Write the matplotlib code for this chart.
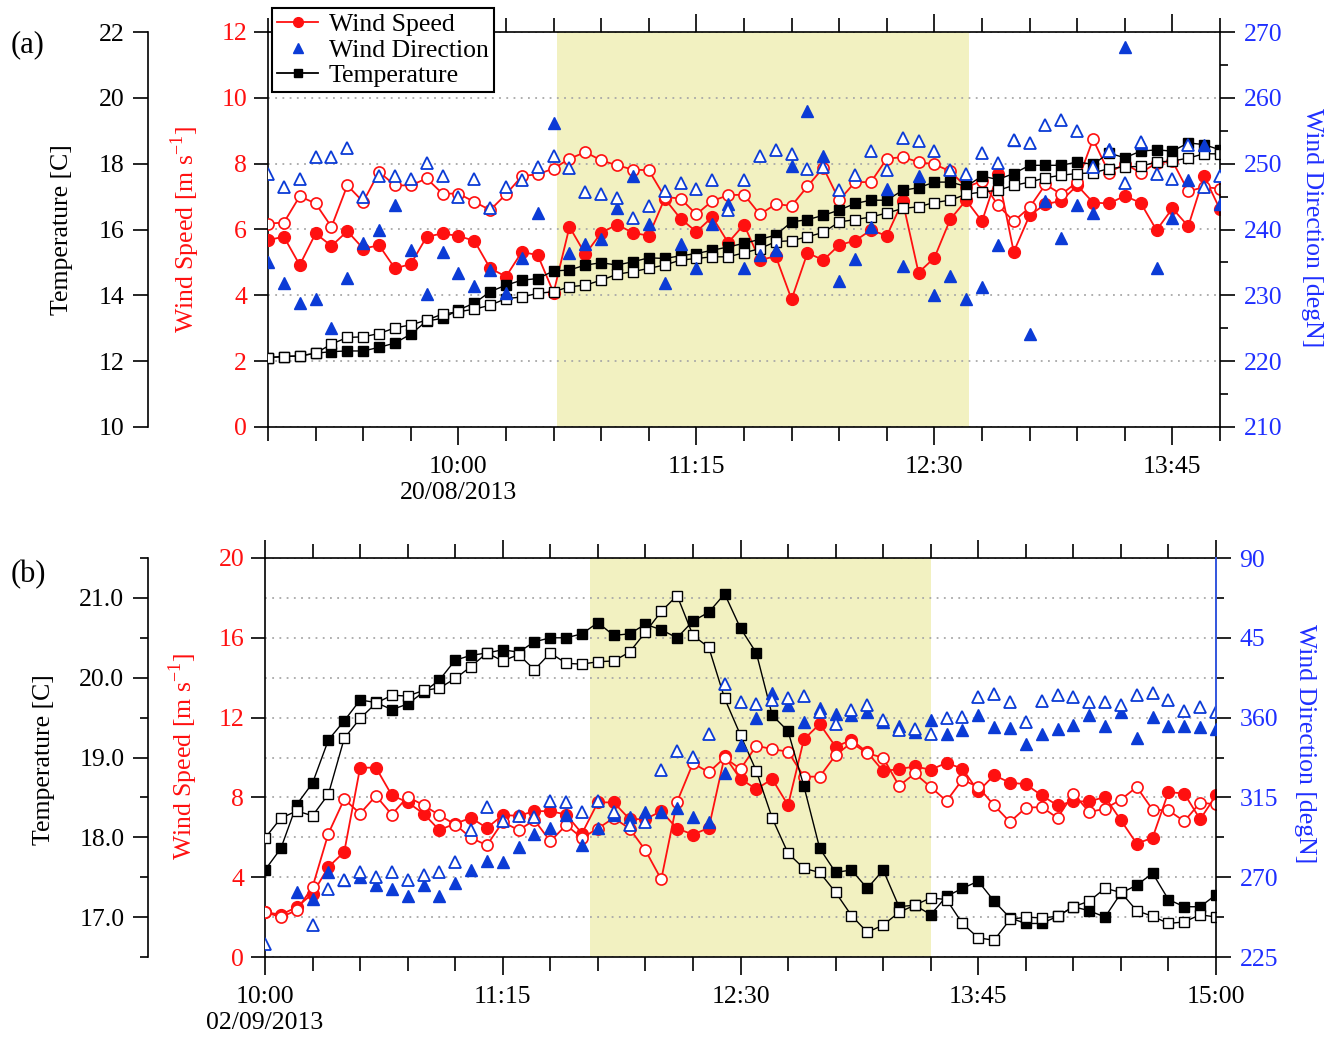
import numpy as np
import matplotlib
matplotlib.use("Agg")
import matplotlib.pyplot as plt
import matplotlib.transforms as mtransforms
from matplotlib.lines import Line2D
from matplotlib.ticker import MultipleLocator, FuncFormatter

plt.rcParams["font.family"] = "serif"
plt.rcParams["font.serif"] = ["Liberation Serif", "DejaVu Serif"]
plt.rcParams["mathtext.fontset"] = "custom"
plt.rcParams["mathtext.rm"] = "Liberation Serif"

# ---- panel (a): 20/08/2013, 09:00-14:00, 5 min steps ----
t_a = np.arange(540, 841, 5)  # minutes after midnight
a_ws1 = [5.68, 5.78, 4.92, 5.88, 5.5, 5.95, 5.42, 5.52, 4.82, 4.95, 5.78, 5.88, 5.8, 5.66, 4.82, 4.57, 5.32, 5.22, 4.08, 6.08, 5.25,
         5.9, 6.15, 5.9, 5.81, 6.94, 6.33, 5.93, 6.38, 5.6, 6.15, 5.07, 5.19, 3.88, 5.29, 5.07, 5.53, 5.66, 5.98, 5.81, 6.86,
         4.69, 5.14, 6.31, 6.89, 6.25, 7.7, 5.32, 6.43, 6.77, 6.87, 7.34, 6.82, 6.79, 7.02, 6.81, 5.98, 6.64, 6.1, 7.62, 6.61]
a_ws2 = [6.18, 6.21, 7.01, 6.79, 6.08, 7.34, 6.84, 7.75, 7.34, 7.34, 7.55, 7.09, 7.09, 6.84, 6.59, 7.07, 7.62, 7.68, 7.85, 8.15, 8.35,
         8.1, 7.95, 7.82, 7.8, 6.99, 6.94, 6.46, 6.87, 7.04, 7.06, 6.46, 6.77, 6.72, 7.31, 7.88, 6.89, 7.44, 7.44, 8.15, 8.2,
         8.05, 7.98, 7.77, 7.29, 7.47, 6.74, 6.25, 6.67, 7.37, 7.07, 7.44, 8.74, 7.72, 8.0, 7.72, 8.02, 8.08, 7.16, 7.29, 7.24]
a_t1 = [12.11, 12.14, 12.16, 12.24, 12.29, 12.31, 12.31, 12.42, 12.55, 12.82, 13.22, 13.3, 13.56, 13.76, 14.11, 14.31, 14.46, 14.51, 14.74, 14.77, 14.92,
        14.99, 14.92, 15.02, 15.14, 15.12, 15.2, 15.27, 15.37, 15.47, 15.58, 15.7, 15.83, 16.23, 16.3, 16.43, 16.59, 16.79, 16.89, 16.89, 17.19,
        17.27, 17.44, 17.44, 17.31, 17.62, 17.52, 17.7, 17.95, 17.95, 17.95, 18.05, 17.98, 18.32, 18.18, 18.38, 18.42, 18.38, 18.63, 18.58, 18.42]
a_t2 = [12.11, 12.14, 12.16, 12.24, 12.52, 12.72, 12.74, 12.84, 13.01, 13.1, 13.25, 13.43, 13.5, 13.58, 13.7, 13.9, 13.95, 14.06, 14.11, 14.26, 14.31,
        14.46, 14.64, 14.72, 14.82, 14.92, 15.07, 15.12, 15.17, 15.17, 15.29, 15.42, 15.63, 15.66, 15.78, 15.91, 16.23, 16.3, 16.38, 16.5, 16.64,
        16.69, 16.82, 16.89, 17.07, 17.14, 17.19, 17.34, 17.44, 17.57, 17.65, 17.7, 17.72, 17.85, 17.9, 17.92, 18.05, 18.08, 18.17, 18.3, 18.3]
a_wd1 = [235.1, 231.9, 228.9, 229.4, 225.1, 232.7, 238, 240, 243.7, 236.9, 230.2, 236.6, 233.4, 231.4, 233.9, 230.4, 235.7, 242.5, 256.2, 236.5, 237.8,
         238.5, 243.3, 248.2, 240.8, 231.8, 237.8, 234.2, 240.8, 243.8, 234.2, 236.1, 236.9, 249.6, 258, 251.1, 232.2, 235.5, 240.4, 246.2, 234.5,
         248.2, 230, 233, 229.5, 231.2, 237.6, 253.6, 224.2, 244.3, 238.7, 243.7, 242.5, 252.3, 267.7, 253.2, 234.1, 241.7, 247.5, 252.8, 243.9]
a_wd2 = [248.5, 246.5, 247.7, 251, 251, 252.4, 245, 248.1, 248.1, 247.7, 250.1, 248.2, 244.9, 247.7, 243.2, 246.4, 247.5, 249.5, 251.1, 249.4, 245.7,
         245.4, 244.8, 241.8, 243.6, 245.9, 247.1, 246.1, 247.5, 243, 247.5, 251.1, 252.1, 251.4, 249.2, 249.5, 246, 248.3, 251.9, 249.1, 253.9,
         253.5, 251.9, 249, 248.5, 251.6, 250.1, 253.6, 253.1, 255.9, 256.7, 254.9, 249.5, 252, 247, 253.3, 248.5, 247.6, 252.8, 246.5, 248.2]
a_shade = (631, 761)

# ---- panel (b): 02/09/2013, 10:00-15:00, 5 min steps ----
t_b = np.arange(600, 901, 5)
b_ws1 = [2.25, 2.12, 2.5, 3.17, 4.51, 5.27, 9.49, 9.49, 8.11, 7.75, 7.19, 6.36, 6.69, 6.97, 6.47, 7.11, 7.08, 7.31, 7.31, 7.14, 6.19,
         7.75, 7.75, 6.91, 6.91, 7.31, 6.44, 6.14, 6.47, 10.07, 8.92, 8.42, 8.92, 7.61, 10.91, 11.68, 10.54, 10.88, 10.26, 9.32, 9.42, 9.55,
         9.39, 9.73, 9.44, 8.3, 9.11, 8.74, 8.66, 8.1, 7.6, 7.8, 7.8, 8.02, 6.85, 5.68, 5.98, 8.27, 8.19, 6.9, 8.1]
b_ws2 = [2.25, 2.0, 2.34, 3.51, 6.19, 7.91, 7.19, 8.08, 7.14, 8.03, 7.61, 7.11, 6.64, 5.97, 5.6, 6.77, 6.36, 6.86, 5.8, 6.61, 5.97,
         6.44, 6.97, 6.44, 5.35, 3.89, 7.78, 9.71, 9.26, 9.99, 9.42, 10.59, 10.42, 10.29, 9.04, 9.04, 10.12, 10.74, 10.21, 9.99, 8.58, 9.2,
         8.52, 7.82, 8.89, 8.52, 7.6, 6.77, 7.48, 7.52, 6.97, 8.19, 7.27, 7.43, 7.89, 8.52, 7.38, 7.35, 6.8, 7.74, 7.65]
b_t1 = [17.59, 17.86, 18.41, 18.68, 19.22, 19.46, 19.72, 19.69, 19.6, 19.67, 19.82, 19.97, 20.22, 20.28, 20.31, 20.35, 20.32, 20.45, 20.5, 20.5, 20.55,
        20.69, 20.53, 20.55, 20.67, 20.6, 20.5, 20.71, 20.82, 21.05, 20.62, 20.31, 19.53, 19.33, 18.64, 17.86, 17.56, 17.59, 17.36, 17.59, 17.13, 17.15,
        17.03, 17.26, 17.36, 17.45, 17.2, 16.99, 16.92, 16.92, 17.01, 17.13, 17.08, 17.0, 17.3, 17.4, 17.55, 17.22, 17.13, 17.13, 17.28]
b_t2 = [17.99, 18.24, 18.33, 18.27, 18.54, 19.24, 19.49, 19.68, 19.78, 19.77, 19.84, 19.87, 19.99, 20.14, 20.31, 20.21, 20.29, 20.1, 20.31, 20.18, 20.17,
        20.2, 20.21, 20.32, 20.57, 20.83, 21.03, 20.53, 20.38, 19.74, 19.28, 18.83, 18.24, 17.8, 17.61, 17.56, 17.31, 17.02, 16.81, 16.9, 17.06, 17.15,
        17.24, 17.22, 16.92, 16.74, 16.71, 16.97, 17.0, 16.99, 17.01, 17.13, 17.2, 17.36, 17.31, 17.08, 17.01, 16.92, 16.94, 17.03, 17.0]
# wind direction in panel (b) is unwrapped past 360 (axis runs 225 -> 450)
b_wd1 = [np.nan, np.nan, 261.7, 257.9, 272.9, 268.7, 270.1, 265.7, 263.1, 259.4, 265.7, 259.4, 267, 274, 279, 278.6, 287.1, 294.6, 297.8, 305.3, 288.3,
         297.5, 305, 304, 306.9, 306.9, 309.2, 304, 301.2, 328.5, 344.6, 359.7, 373.8, 367.2, 357.4, 365.3, 361.9, 361.5, 363, 357.8, 355.5, 352,
         358.5, 351, 352.8, 361.7, 354.7, 354.2, 345.3, 351, 353.4, 355.7, 361.7, 355.3, 363.2, 348.5, 360.3, 355.3, 355.3, 354.7, 353.8]
b_wd2 = [232.4, np.nan, np.nan, 242.8, 263.1, 268.2, 272.9, 270.1, 272.9, 268.7, 271.4, 272.9, 278.6, 296.6, 309.7, 301.6, 304.6, 304, 312.9, 312.2, 306.5,
         312.9, 306.9, 299.4, 301, 330.4, 341.2, 338, 350.6, 378.9, 368.7, 367.5, 370, 371.3, 371.9, 363.4, 356.3, 364.4, 367.2, 358.7, 353, 353.8,
         351, 360, 360.3, 371.7, 373.5, 368.8, 357.5, 369.2, 372.6, 371.7, 368.8, 368.8, 367, 372.6, 374.1, 370.1, 363.6, 366.1, 363.2]
b_shade = (702.5, 810)

RED = "#ff1010"
BLUE = "#0b3bd6"
LBLUE = "#1f2fff"
SHADE = "#f2f1c1"
FS = 18.5

W, H = 1338, 1042
fig = plt.figure(figsize=(W / 100, H / 100), dpi=100)


def rect(l, t, r, b):
    return [l / W, 1 - b / H, (r - l) / W, (b - t) / H]


def time_formatter(date):
    def f(v, pos):
        h, m = divmod(int(round(v)), 60)
        s = f"{h:02d}:{m:02d}"
        if h == 10 and m == 0:
            s += "\n" + date
        return s
    return FuncFormatter(f)


def panel(r, t, ws1, ws2, tp1, tp2, wd1, wd2, shade, date, ws_lim, ws_step, t_lim, t_off):
    ax = fig.add_axes(r)
    ax.axvspan(*shade, color=SHADE, lw=0, zorder=0)
    ax.plot(t, ws1, "-o", color=RED, ms=8.5, lw=1.3, zorder=3)
    ax.plot(t, ws2, "-o", color=RED, mfc="white", ms=8, mew=1.2, lw=1.3, zorder=3)
    ax.set_xlim(t[0], t[-1])
    ax.set_ylim(*ws_lim)
    ax.yaxis.set_major_locator(MultipleLocator(ws_step))
    ax.yaxis.set_minor_locator(MultipleLocator(2))
    ax.grid(axis="y", which="both", ls=(0, (1, 3)), color="#a8a8a8", lw=1.3)
    ax.xaxis.set_major_locator(MultipleLocator(75))
    ax.xaxis.set_minor_locator(MultipleLocator(15))
    ax.xaxis.set_major_formatter(time_formatter(date))
    ax.tick_params(axis="x", which="both", top=True, direction="out", labelsize=FS, width=1.2, pad=8)
    ax.tick_params(axis="x", which="major", length=13)
    ax.tick_params(axis="x", which="minor", length=10)
    ax.tick_params(axis="y", which="major", direction="out", length=10, width=1.2,
                   labelcolor=RED, labelsize=FS, pad=5)
    ax.tick_params(axis="y", which="minor", length=0)
    ax.spines["right"].set_visible(False)
    for s in ax.spines.values():
        s.set_linewidth(1.2)

    tax = ax.twinx()
    tax.plot(t, tp1, "-s", color="black", ms=7, lw=1.0, zorder=3)
    tax.plot(t, tp2, "-s", color="black", mfc="white", ms=6.5, mew=1.0, lw=1.0, zorder=3)
    tax.set_ylim(*t_lim)
    tax.yaxis.set_ticks_position("left")
    tax.spines["left"].set_position(("axes", t_off))
    tax.spines["left"].set_visible(True)
    tax.spines["left"].set_linewidth(1.2)
    for k in ("right", "top", "bottom"):
        tax.spines[k].set_visible(False)
    tax.tick_params(axis="y", which="major", direction="out", length=11, width=1.2, labelsize=FS, pad=6)
    tax.tick_params(axis="y", which="minor", direction="out", length=6, width=1.2)

    dax = ax.twinx()
    dax.plot(t, wd1, "^", color=BLUE, ms=9, ls="none", zorder=4)
    dax.plot(t, wd2, "^", color=BLUE, mfc="white", ms=9, mew=1.3, ls="none", zorder=4)
    for k in ("left", "top", "bottom"):
        dax.spines[k].set_visible(False)
    dax.spines["right"].set_linewidth(1.2)
    dax.tick_params(axis="y", which="major", direction="out", length=11, width=1.2,
                    labelcolor=LBLUE, labelsize=FS, pad=6)
    dax.tick_params(axis="y", which="minor", direction="out", length=6, width=1.2)
    return ax, tax, dax


# panel (a)
ax_a, tax_a, dax_a = panel(rect(268, 32, 1220, 427), t_a, a_ws1, a_ws2, a_t1, a_t2, a_wd1, a_wd2,
                           a_shade, "20/08/2013", (0, 12), 2, (10, 22), -120 / 952)
tax_a.yaxis.set_major_locator(MultipleLocator(2))
dax_a.set_ylim(210, 270)
dax_a.yaxis.set_major_locator(MultipleLocator(10))
dax_a.yaxis.set_minor_locator(MultipleLocator(5))

# panel (b)
ax_b, tax_b, dax_b = panel(rect(265, 558, 1216, 957), t_b, b_ws1, b_ws2, b_t1, b_t2, b_wd1, b_wd2,
                           b_shade, "02/09/2013", (0, 20), 4, (16.5, 21.5), -117 / 951)
tax_b.yaxis.set_major_locator(MultipleLocator(1))
tax_b.yaxis.set_minor_locator(MultipleLocator(0.5))
tax_b.yaxis.set_major_formatter(FuncFormatter(lambda v, p: f"{v:.1f}"))
dax_b.set_ylim(225, 450)
dax_b.yaxis.set_major_locator(MultipleLocator(45))
dax_b.yaxis.set_minor_locator(MultipleLocator(22.5))
dax_b.yaxis.set_major_formatter(FuncFormatter(lambda v, p: f"{int(v) if v <= 360 else int(v) - 360}"))
dax_b.spines["right"].set_bounds(225, 360)
trans = mtransforms.blended_transform_factory(dax_b.transAxes, dax_b.transData)
dax_b.plot([1, 1], [360, 450], color="#3355dd", lw=1.4, transform=trans, clip_on=False, zorder=5)

# axis titles
fig.text(62 / W, 1 - 230 / H, "Temperature [C]", rotation=90, ha="center", va="center", fontsize=FS)
fig.text(185 / W, 1 - 230 / H, r"Wind Speed [m s$^{\mathregular{-1}}$]", rotation=90, ha="center",
         va="center", fontsize=FS, color=RED)
fig.text(1312 / W, 1 - 228 / H, "Wind Direction [degN]", rotation=270, ha="center", va="center",
         fontsize=FS, color=LBLUE)
fig.text(44 / W, 1 - 760 / H, "Temperature [C]", rotation=90, ha="center", va="center", fontsize=FS)
fig.text(183 / W, 1 - 757 / H, r"Wind Speed [m s$^{\mathregular{-1}}$]", rotation=90, ha="center",
         va="center", fontsize=FS, color=RED)
fig.text(1305 / W, 1 - 744 / H, "Wind Direction [degN]", rotation=270, ha="center", va="center",
         fontsize=FS, color=LBLUE)
fig.text(28 / W, 1 - 45 / H, "(a)", ha="center", va="center", fontsize=22)
fig.text(28 / W, 1 - 575 / H, "(b)", ha="center", va="center", fontsize=22)

handles = [
    Line2D([], [], color=RED, marker="o", ms=7, lw=1.3),
    Line2D([], [], color=BLUE, marker="^", ms=7, ls="none"),
    Line2D([], [], color="black", marker="s", ms=6, lw=1.3),
]
leg = fig.legend(handles, ["Wind Speed", "Wind Direction", "Temperature"], loc="upper left",
                 bbox_to_anchor=(272 / W, 1 - 8 / H), fontsize=FS, frameon=True, fancybox=False,
                 edgecolor="black", framealpha=1, borderpad=0.2, labelspacing=0.1,
                 handlelength=1.6, handletextpad=0.4, borderaxespad=0)
leg.get_frame().set_linewidth(1.5)

# colour the upper (wrapped) part of the direction axis ticks blue
fig.canvas.draw()
for tick in dax_b.yaxis.get_major_ticks() + dax_b.yaxis.get_minor_ticks():
    if tick.get_loc() > 360:
        tick.tick2line.set_color("#3355dd")

fig.savefig("out.png", dpi=100)
